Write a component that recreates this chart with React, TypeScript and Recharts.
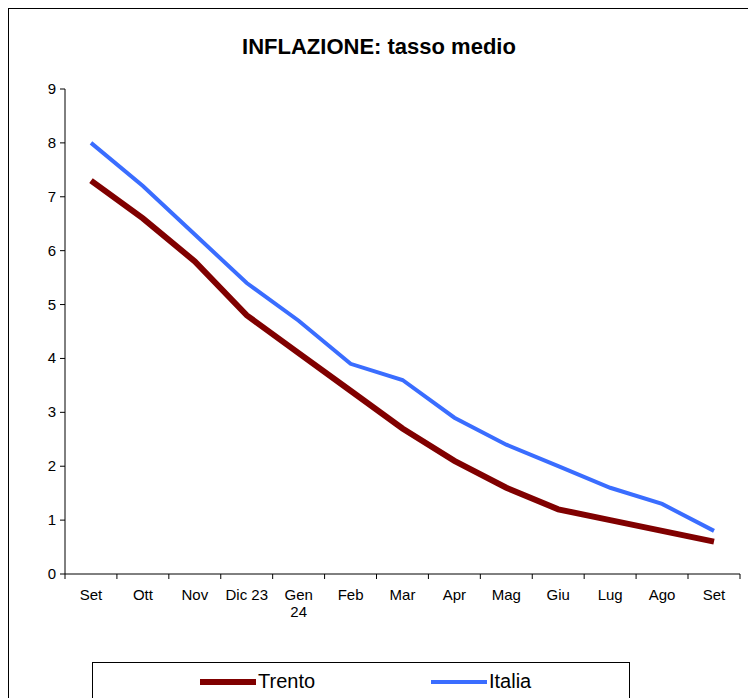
import React from 'react';
import { LineChart, Line, XAxis, YAxis } from 'recharts';

const months = ['Set', 'Ott', 'Nov', 'Dic 23', 'Gen\n24', 'Feb', 'Mar', 'Apr', 'Mag', 'Giu', 'Lug', 'Ago', 'Set'];
const trento = [7.3, 6.6, 5.8, 4.8, 4.1, 3.4, 2.7, 2.1, 1.6, 1.2, 1.0, 0.8, 0.6];
const italia = [8.0, 7.2, 6.3, 5.4, 4.7, 3.9, 3.6, 2.9, 2.4, 2.0, 1.6, 1.3, 0.8];
const yTicks = [0, 1, 2, 3, 4, 5, 6, 7, 8, 9];

const data = months.map((m, i) => ({ m: m + '#' + i, trento: trento[i], italia: italia[i] }));
const font = 'Liberation Sans, Arial, sans-serif';

function MonthTick(props: any) {
  const { x, y, payload, index } = props;
  const label = String(payload.value).split('#')[0];
  return (
    <g>
      <line x1={x - 26} x2={x - 26} y1={574} y2={579} stroke="#000" />
      {index === months.length - 1 && <line x1={x + 26} x2={x + 26} y1={574} y2={579} stroke="#000" />}
      <text x={x} y={600} textAnchor="middle" fontSize={15} fill="#000" fontFamily={font}>
        {label.split('\n').map((l, i) => (
          <tspan key={i} x={x} dy={i === 0 ? 0 : 17}>{l}</tspan>
        ))}
      </text>
    </g>
  );
}

function NumTick(props: any) {
  const { x, y, payload } = props;
  return (
    <text x={x - 2} y={y + 5} textAnchor="end" fontSize={15} fill="#000" fontFamily={font}>{payload.value}</text>
  );
}

export default function App() {
  return (
    <div style={{ position: 'absolute', left: 0, top: 0, width: 748, height: 698, background: '#fff', overflow: 'hidden', fontFamily: font }}>
      <div style={{ position: 'absolute', left: 8, top: 8, width: 760, height: 720, border: '1px solid #000' }} />
      <div style={{ position: 'absolute', left: 0, top: 34, width: 758, textAlign: 'center', fontSize: 22, fontWeight: 'bold' }}>
        INFLAZIONE: tasso medio
      </div>
      <LineChart width={748} height={698} data={data} margin={{ top: 89, right: 8, bottom: 74, left: 25 }} style={{ position: 'absolute', left: 0, top: 0 }}>
        <XAxis dataKey="m" interval={0} padding={{ left: 26, right: 26 }} stroke="#000" tickLine={false} height={50} tick={<MonthTick />} />
        <YAxis domain={[0, 9]} ticks={yTicks} width={40} stroke="#000" tickSize={5} tick={<NumTick />} />
        <Line dataKey="trento" stroke="#800000" strokeWidth={6} dot={false} isAnimationActive={false} />
        <Line dataKey="italia" stroke="#3a6dff" strokeWidth={4} dot={false} isAnimationActive={false} />
      </LineChart>
      <div style={{ position: 'absolute', left: 92, top: 662, width: 536, height: 50, border: '1px solid #000', fontSize: 20 }}>
        <div style={{ position: 'absolute', left: 107, top: 16, width: 56, height: 6, background: '#800000' }} />
        <div style={{ position: 'absolute', left: 165, top: 7 }}>Trento</div>
        <div style={{ position: 'absolute', left: 338, top: 17, width: 56, height: 4, background: '#3a6dff' }} />
        <div style={{ position: 'absolute', left: 396, top: 7 }}>Italia</div>
      </div>
    </div>
  );
}
